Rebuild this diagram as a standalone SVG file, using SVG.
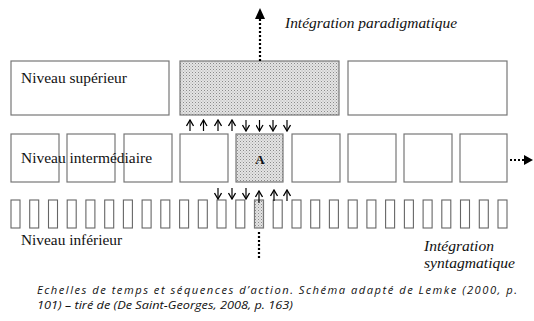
<svg xmlns="http://www.w3.org/2000/svg" width="534" height="321" viewBox="0 0 534 321">
<defs>
<pattern id="dots" width="3" height="3" patternUnits="userSpaceOnUse">
<rect width="3" height="3" fill="#e4e4e4"/>
<rect x="0" y="0" width="1" height="1" fill="#8a8a8a"/>
<rect x="1.5" y="1.5" width="1" height="1" fill="#a8a8a8"/>
</pattern>
<marker id="ah" viewBox="0 0 8 8" refX="7" refY="4" markerWidth="8" markerHeight="8" markerUnits="userSpaceOnUse" orient="auto">
<path d="M1,0.5 L7,4 L1,7.5" fill="none" stroke="#000" stroke-width="1.3"/>
</marker>
</defs>
<style>
.box{fill:#fff;stroke:#777;stroke-width:1.2}
.dot{fill:url(#dots);stroke:#777;stroke-width:1.2}
.bar{fill:#fff;stroke:#666;stroke-width:1.1}
.sa{stroke:#000;stroke-width:1.2;fill:none;marker-end:url(#ah)}
.dash{stroke:#000;stroke-width:2.2;stroke-dasharray:2,2;fill:none}
.serif{font-family:"Liberation Serif","DejaVu Serif",serif;font-size:14px;fill:#111}
</style>
<rect width="534" height="321" fill="#fff"/>

<g id="top-level">
<rect class="box" x="11" y="61" width="158" height="54"/>
<text class="serif" x="21" y="83" textLength="106" lengthAdjust="spacingAndGlyphs">Niveau supérieur</text>
</g>
<g id="top-A">
<rect class="dot" x="180" y="61" width="159" height="54"/>
</g>
<g id="top-right">
<rect class="box" x="348" y="61" width="159" height="54"/>
</g>

<g id="mid-level">
<rect class="box" x="11" y="134" width="48" height="48"/>
<rect class="box" x="67" y="134" width="48" height="48"/>
<rect class="box" x="124" y="134" width="48" height="48"/>
<text class="serif" x="21" y="163" textLength="131" lengthAdjust="spacingAndGlyphs">Niveau intermédiaire</text>
<rect class="box" x="180" y="134" width="48" height="48"/>
</g>
<g id="mid-A">
<rect class="dot" x="236" y="134" width="47" height="48"/>
<text class="serif" x="260" y="164" text-anchor="middle" font-weight="bold" style="font-size:13px">A</text>
</g>
<g id="mid-right">
<rect class="box" x="292" y="134" width="48" height="48"/>
<rect class="box" x="348" y="134" width="48" height="48"/>
<rect class="box" x="404" y="134" width="48" height="48"/>
<rect class="box" x="460" y="134" width="47" height="48"/>
</g>

<g id="low-level">
<rect class="bar" x="11" y="200" width="9" height="28"/>
<rect class="bar" x="29.7" y="200" width="9" height="28"/>
<rect class="bar" x="48.5" y="200" width="9" height="28"/>
<rect class="bar" x="67.2" y="200" width="9" height="28"/>
<rect class="bar" x="85.9" y="200" width="9" height="28"/>
<rect class="bar" x="104.7" y="200" width="9" height="28"/>
<rect class="bar" x="123.4" y="200" width="9" height="28"/>
<rect class="bar" x="142.1" y="200" width="9" height="28"/>
<rect class="bar" x="160.8" y="200" width="9" height="28"/>
<rect class="bar" x="179.6" y="200" width="9" height="28"/>
<rect class="bar" x="198.3" y="200" width="9" height="28"/>
<rect class="bar" x="217" y="200" width="9" height="28"/>
<rect class="bar" x="235.8" y="200" width="9" height="28"/>
<rect class="dot" x="254.5" y="200" width="9" height="28"/>
<rect class="bar" x="273.2" y="200" width="9" height="28"/>
<rect class="bar" x="292" y="200" width="9" height="28"/>
<rect class="bar" x="310.7" y="200" width="9" height="28"/>
<rect class="bar" x="329.4" y="200" width="9" height="28"/>
<rect class="bar" x="348.2" y="200" width="9" height="28"/>
<rect class="bar" x="366.9" y="200" width="9" height="28"/>
<rect class="bar" x="385.6" y="200" width="9" height="28"/>
<rect class="bar" x="404.4" y="200" width="9" height="28"/>
<rect class="bar" x="423.1" y="200" width="9" height="28"/>
<rect class="bar" x="441.8" y="200" width="9" height="28"/>
<rect class="bar" x="460.5" y="200" width="9" height="28"/>
<rect class="bar" x="479.3" y="200" width="9" height="28"/>
<rect class="bar" x="498" y="200" width="9" height="28"/>
<text class="serif" x="21" y="245" textLength="101" lengthAdjust="spacingAndGlyphs">Niveau inférieur</text>
</g>

<g id="connectors">
<line class="dash" x1="260" y1="61" x2="260" y2="18"/>
<polygon points="255,19 265,19 260,8" fill="#000"/>
<line class="dash" x1="510" y1="160" x2="524" y2="160"/>
<polygon points="524,155 524,165 533,160" fill="#000"/>
<line class="dash" x1="259" y1="232" x2="259" y2="260"/>

<line class="sa" x1="190" y1="131" x2="190" y2="120"/>
<line class="sa" x1="203.5" y1="131" x2="203.5" y2="120"/>
<line class="sa" x1="218" y1="131" x2="218" y2="120"/>
<line class="sa" x1="232" y1="131" x2="232" y2="120"/>
<line class="sa" x1="246" y1="120" x2="246" y2="131"/>
<line class="sa" x1="259.5" y1="120" x2="259.5" y2="131"/>
<line class="sa" x1="273" y1="120" x2="273" y2="131"/>
<line class="sa" x1="287" y1="120" x2="287" y2="131"/>

<line class="sa" x1="218" y1="188" x2="218" y2="199"/>
<line class="sa" x1="232" y1="188" x2="232" y2="199"/>
<line class="sa" x1="246" y1="188" x2="246" y2="199"/>
<line class="sa" x1="259" y1="203" x2="259" y2="191"/>
<line class="sa" x1="274" y1="201" x2="274" y2="190"/>
<line class="sa" x1="287" y1="201" x2="287" y2="190"/>
</g>

<g id="labels" font-style="italic">
<text class="serif" x="285" y="28" textLength="172" lengthAdjust="spacingAndGlyphs">Intégration paradigmatique</text>
<text class="serif" x="424" y="251" textLength="70" lengthAdjust="spacingAndGlyphs">Intégration</text>
<text class="serif" x="424" y="268" textLength="91" lengthAdjust="spacingAndGlyphs">syntagmatique</text>
</g>

<g id="caption" font-family="'Open Sans', 'Liberation Sans', sans-serif" font-size="11.2" font-style="italic" fill="#111">
<text x="37" y="294" textLength="480" lengthAdjust="spacing">Echelles de temps et séquences d’action. Schéma adapté de Lemke (2000, p.</text>
<text x="37" y="309" textLength="256" lengthAdjust="spacingAndGlyphs">101) – tiré de (De Saint-Georges, 2008, p. 163)</text>
</g>
</svg>
